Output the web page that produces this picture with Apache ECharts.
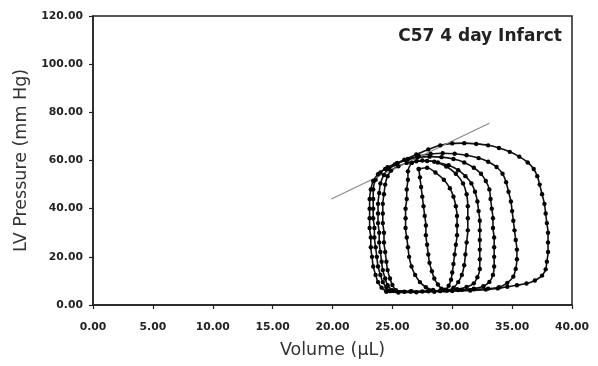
<!DOCTYPE html>
<html>
<head>
<meta charset="utf-8">
<script src="https://cdn.jsdelivr.net/npm/echarts@6/dist/echarts.min.js"></script>
<style>html,body{margin:0;padding:0;background:#fff;}#c{width:598px;height:366px;}</style>
</head>
<body>
<div id="c"></div>
<script>
// Axis ticks
const xTicks = [0, 5, 10, 15, 20, 25, 30, 35, 40];
const yTicks = [0, 20, 40, 60, 80, 100, 120];
const chartTitle = "C57 4 day Infarct";
const xTitle = "Volume (\u00b5L)";
const yTitle = "LV Pressure (mm Hg)";

// ESPVR line end points [volume, pressure]
const espvr = [[19.9, 44.0], [33.1, 75.5]];

// Pressure-volume loops, [volume µL, pressure mmHg]
const loopA = [[24.5,5.6],[25.5,5.2],[27,5.3],[28.5,5.5],[30,5.8],[31.5,6.0],[32.8,6.4],[33.8,6.9],[34.6,7.6],[35.4,8.2],[36.2,8.9],[36.9,10.2],[37.5,12.2],[37.8,14.8],[37.9,18],[38.0,22],[38.0,26],[38.0,30],[37.9,34],[37.8,38],[37.7,42],[37.5,46],[37.3,50],[37.1,53.5],[36.8,56.5],[36.3,59.2],[35.6,61.6],[34.8,63.6],[33.9,65.2],[33,66.3],[32,66.9],[31,67.2],[30,67.1],[29,66.3],[28,64.6],[27,62.5],[26,60.3],[25.2,58.4],[24.4,56.5],[23.8,54.3],[23.4,51.5],[23.2,48],[23.1,44],[23.1,40],[23.1,36],[23.1,32],[23.2,28],[23.2,24],[23.3,20],[23.4,16],[23.6,12.5],[23.8,9.5],[24.1,7.2],[24.5,5.6]];
const loopB = [[24.8,5.8],[26,5.5],[27.5,5.6],[29,5.9],[30.5,6.2],[31.8,6.5],[33,6.8],[33.9,7.4],[34.6,9.2],[35.1,11.8],[35.3,15],[35.4,19],[35.4,23],[35.3,27],[35.2,31],[35.1,35],[35.0,39],[34.9,43],[34.7,47],[34.5,51],[34.2,54.5],[33.7,57.3],[33,59.5],[32.2,61],[31.2,62.2],[30.2,62.8],[29.2,63],[28.2,62.7],[27.2,61.9],[26.3,60.6],[25.4,59],[24.6,57.2],[24,55],[23.6,52],[23.4,48],[23.4,44],[23.4,40],[23.4,36],[23.5,32],[23.5,28],[23.6,24],[23.7,20],[23.8,16],[24.0,12.5],[24.2,9.5],[24.5,7.3],[24.8,5.8]];
const loopC = [[25,6],[26.5,5.6],[28,5.7],[29.5,6],[30.8,6.3],[31.8,6.8],[32.6,7.8],[33.1,9.6],[33.4,12.5],[33.5,16],[33.5,20],[33.5,24],[33.5,28],[33.4,32],[33.4,36],[33.3,40],[33.2,44],[33.1,48],[32.8,51.5],[32.4,54.5],[31.8,57],[31,59.2],[30.1,60.6],[29.1,61.4],[28.1,61.6],[27.1,61.2],[26.2,60.2],[25.4,58.6],[24.7,56.6],[24.3,54],[24.0,50.5],[23.9,46.5],[23.8,42],[23.8,38],[23.8,34],[23.9,30],[23.9,26],[24,22],[24.1,18],[24.2,14.5],[24.4,11],[24.6,8.2],[25,6]];
const loopD = [[25.3,6],[26.6,5.7],[28,5.8],[29.3,6.1],[30.4,6.6],[31.2,7.5],[31.8,9],[32.1,11.5],[32.3,15],[32.3,19],[32.3,23],[32.3,27],[32.3,31],[32.3,35],[32.2,39],[32.1,43],[31.9,47],[31.6,50.5],[31.1,53.5],[30.5,56],[29.7,58],[28.8,59.2],[27.9,59.8],[27,59.7],[26.2,59],[25.5,57.6],[24.9,55.8],[24.6,53.5],[24.4,50],[24.3,46],[24.2,42],[24.2,38],[24.2,34],[24.3,30],[24.3,26],[24.4,22],[24.5,18],[24.6,14.5],[24.8,11],[25,8.3],[25.3,6]];
const loopE = [[26.6,59],[27.5,60],[28.5,59.5],[29.5,57.5],[30.3,54.5],[30.9,50.5],[31.2,46],[31.3,41],[31.3,36],[31.3,31],[31.2,26],[31.1,21],[31,16.5],[30.8,12.5],[30.5,9.5],[30.1,7.2],[29.6,6],[29,5.8],[28.4,6.2],[27.8,7.4],[27.3,9.5],[26.9,12.5],[26.6,16],[26.4,20],[26.3,24],[26.2,28],[26.1,32],[26.1,36],[26.1,40],[26.2,44],[26.2,48],[26.3,52],[26.3,55.5],[26.6,59]];
const loopF = [[27.2,56.5],[27.9,57],[28.6,55],[29.3,52],[29.8,48.5],[30.1,45],[30.3,41],[30.4,37],[30.4,33],[30.4,29],[30.3,25],[30.2,21],[30.1,17],[30,13.5],[29.9,10.5],[29.7,8],[29.4,6.4],[29.1,6.8],[28.8,8.5],[28.5,11],[28.3,14],[28.1,17.5],[28,21],[27.9,25],[27.8,29],[27.8,33],[27.7,37],[27.6,41],[27.5,45],[27.4,49],[27.3,53],[27.2,56.5]];

const loops = [loopA, loopB, loopC, loopD, loopE, loopF];

const chart = echarts.init(document.getElementById('c'), null, {renderer: 'canvas'});
const labelFont = {fontFamily: 'DejaVu Sans', fontWeight: 'bold', fontSize: 10.8, color: '#222'};
const titleFont = {fontFamily: 'DejaVu Sans', fontSize: 17.5, color: '#333'};

const series = loops.map(d => ({
  type: 'line',
  data: d,
  smooth: 0.3,
  symbol: 'circle',
  symbolSize: 4.4,
  itemStyle: {color: '#000'},
  lineStyle: {color: '#111', width: 1.6},
  silent: true,
  animation: false
}));
series.push({
  type: 'line',
  data: espvr,
  symbol: 'none',
  lineStyle: {color: '#8a8a8a', width: 1.2},
  silent: true,
  animation: false
});

chart.setOption({
  animation: false,
  title: {
    text: chartTitle,
    right: 31, top: 23,
    textStyle: {fontFamily: 'DejaVu Sans', fontWeight: 'bold', fontSize: 17, color: '#222'}
  },
  grid: {left: 93, right: 26, top: 16, bottom: 61, show: true, borderColor: '#222', borderWidth: 1.5, backgroundColor: 'transparent'},
  xAxis: {
    type: 'value', min: xTicks[0], max: xTicks[xTicks.length-1], interval: 5,
    name: xTitle, nameLocation: 'middle', nameGap: 36,
    nameTextStyle: titleFont,
    axisLine: {show: true, lineStyle: {color: '#222', width: 1.5}},
    axisTick: {show: true, inside: false, length: 4, lineStyle: {color: '#222', width: 1.2}},
    axisLabel: Object.assign({margin: 17, formatter: v => v.toFixed(2)}, labelFont),
    splitLine: {show: false}
  },
  yAxis: {
    type: 'value', min: yTicks[0], max: yTicks[yTicks.length-1], interval: 20,
    name: yTitle, nameLocation: 'middle', nameGap: 52,
    nameTextStyle: titleFont,
    axisLine: {show: true, lineStyle: {color: '#222', width: 1.5}},
    axisTick: {show: true, inside: false, length: 4, lineStyle: {color: '#222', width: 1.2}},
    axisLabel: Object.assign({margin: 10, formatter: v => v.toFixed(2)}, labelFont),
    splitLine: {show: false}
  },
  series: series
});
</script>
</body>
</html>
